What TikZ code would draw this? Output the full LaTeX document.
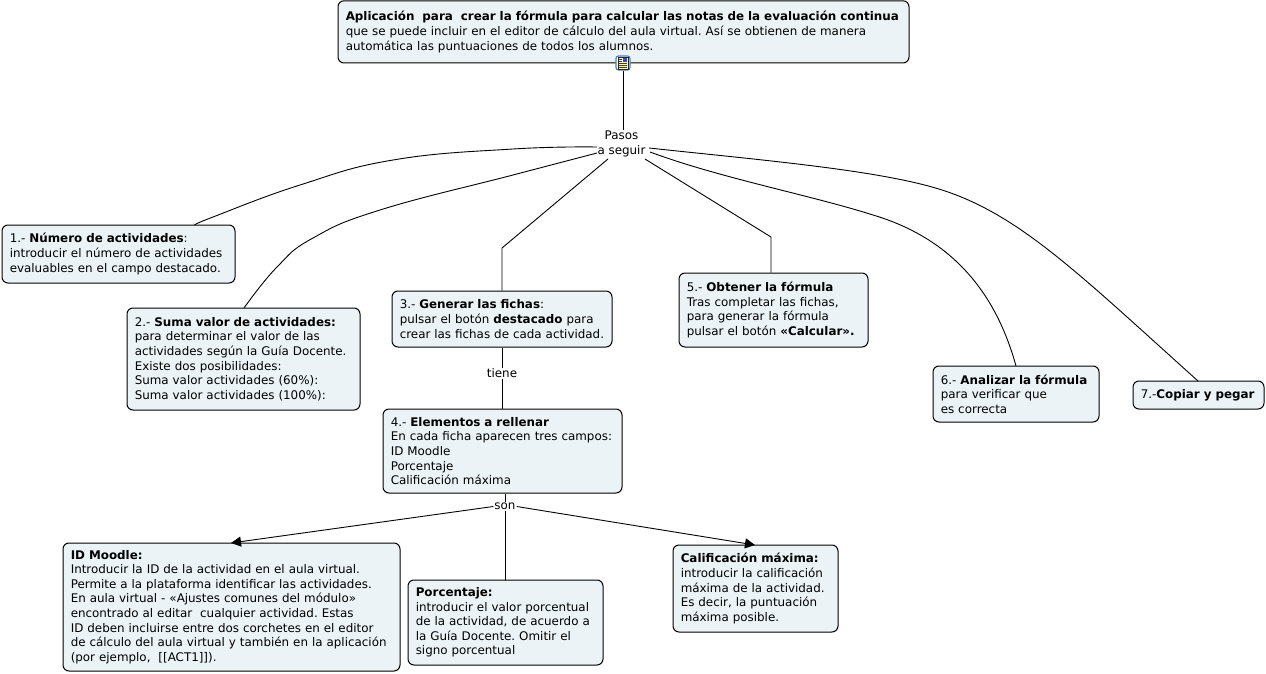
\documentclass[tikz,border=0pt]{standalone}
\usepackage{fontspec}
\setmainfont{DejaVu Sans}
\usetikzlibrary{calc,arrows.meta}
\definecolor{boxfill}{HTML}{EBF3F6}
\frenchspacing
\newcommand{\bx}[6]{% name, x0, y0, x1, y1, text
  \node[conceptbox, minimum width=#4-#2, minimum height=#5-#3, text width=#4-#2-15.5] (#1) at ({(#2+#4)/2},{(#3+#5)/2}) {#6};}
\tikzset{
  x=1pt, y=-1pt,
  conceptbox/.style={draw=black, fill=boxfill, rounded corners=6pt, line width=1pt, inner sep=0pt, align=left,
    font=\fontsize{11.9}{14.6}\selectfont},
  linklabel/.style={fill=white, inner sep=1pt, align=center, font=\fontsize{11.9}{14.6}\selectfont},
  link/.style={line width=0.9pt, black},
  linkcurve/.style={link, smooth, tension=0.75},
  linkarrow/.style={link, -{Triangle[length=10pt,width=10pt]}}
}
\begin{document}
\begin{tikzpicture}
\useasboundingbox (0,0) rectangle (1266,674);
\bx{top}{338}{0.8}{909}{63}{\textbf{Aplicación\ \ para\ \ crear la fórmula para calcular las notas de la evaluación continua}\\que se puede incluir en el editor de cálculo del aula virtual. Así se obtienen de manera\\automática las puntuaciones de todos los alumnos.}
\bx{one}{2}{225}{235}{283}{1.- \textbf{Número de actividades}:\\introducir el número de actividades\\evaluables en el campo destacado.}
\bx{two}{127}{308}{360}{410}{2.- \textbf{Suma valor de actividades:}\\para determinar el valor de las\\actividades según la Guía Docente.\\Existe dos posibilidades:\\Suma valor actividades (60\%):\\Suma valor actividades (100\%):}
\bx{three}{392}{291}{612}{347}{3.- \textbf{Generar las fichas}:\\pulsar el botón \textbf{destacado} para\\crear las fichas de cada actividad.}
\bx{four}{383}{409}{622}{493}{4.- \textbf{Elementos a rellenar}\\En cada ficha aparecen tres campos:\\ID Moodle\\Porcentaje\\Calificación máxima}
\bx{five}{679}{273}{868}{347}{5.- \textbf{Obtener la fórmula}\\Tras completar las fichas,\\para generar la fórmula\\pulsar el botón \textbf{«Calcular».}}
\bx{six}{933}{366}{1099}{422}{6.- \textbf{Analizar la fórmula}\\para verificar que\\es correcta}
\bx{seven}{1133}{381}{1264}{409}{7.-\textbf{Copiar y pegar}}
\bx{idm}{63}{543}{400}{671}{\textbf{ID Moodle:}\\Introducir la ID de la actividad en el aula virtual.\\Permite a la plataforma identificar las actividades.\\En aula virtual - «Ajustes comunes del módulo»\\encontrado al editar\ \ cualquier actividad. Estas\\ID deben incluirse entre dos corchetes en el editor\\de cálculo del aula virtual y también en la aplicación\\(por ejemplo,\ \ [[ACT1]]).}
\bx{porc}{408}{580}{603}{665}{\textbf{Porcentaje:}\\introducir el valor porcentual\\de la actividad, de acuerdo a\\la Guía Docente. Omitir el\\signo porcentual}
\bx{cal}{673}{545}{838}{632}{\textbf{Calificación máxima:}\\introducir la calificación\\máxima de la actividad.\\Es decir, la puntuación\\máxima posible.}

\node[linklabel] (pasos) at (621.5,144) {Pasos\\a seguir};
\node[linklabel] (tiene) at (502,373.5) {tiene};
\node[linklabel] (son) at (505,506.5) {son};

% document icon on the top concept
\node[draw={rgb,255:red,70;green,130;blue,200}, fill=white, rounded corners=2.5pt, line width=1.2pt, minimum size=14pt, inner sep=0pt] (icon) at (623,63) {};
\fill[yellow!35] (618,57) rectangle (628,69);
\draw[black!85, line width=0.5pt] (618,57) rectangle (628,69);
\fill[blue!45!gray] (623,58) rectangle (627,62);
\foreach \yy in {59.5,61.5}{\draw[black!75, line width=0.4pt] (619,\yy) -- (622,\yy);}
\foreach \yy in {63.5,65.5,67.5}{\draw[black!75, line width=0.4pt] (619,\yy) -- (627,\yy);}

\draw[link] (icon.south) -- (pasos.north -| icon.south);
\draw[link] (three.south -| tiene) -- (tiene.north);
\draw[link] (tiene.south) -- (four.north -| tiene);

\coordinate (s1) at (597,147);
\coordinate (s2) at (597,153);
\coordinate (s3) at (608,159);
\coordinate (s5) at (645,159);
\coordinate (s6) at (650,152);
\coordinate (s7) at (649,148);
\coordinate (c1) at (195,225);
\coordinate (c2) at (244,308);
\coordinate (c6) at (1016,366);
\coordinate (c7) at (1198,381);
\coordinate (b3) at (502,248);
\coordinate (b5) at (771,237);

\draw[linkcurve] plot coordinates {(s1) (513,149) (393,160) (300,185) (213,217) (c1)};
\draw[linkcurve] plot coordinates {(s2) (513,175) (380,210) (313,238) (277,267) (c2)};
\draw[link] (s3) -- (b3) -- (three.north -| b3);
\draw[link] (s5) -- (b5) -- (five.north -| b5);
\draw[link] (s6) .. controls (720,178) and (810,195) .. (873,215) .. controls (950,238) and (995,290) .. (c6);
\draw[link] (s7) .. controls (760,160) and (880,170) .. (942,190) .. controls (1020,215) and (1080,275) .. (c7);

\draw[link] (four.south -| son) -- (son.north);
\draw[link] (son.south) -- (porc.north -| son);
\coordinate (a1) at (231,543);
\coordinate (a2) at (755,545);
\draw[linkarrow] (son.west) -- (a1);
\draw[linkarrow] (son.east) -- (a2);
\end{tikzpicture}
\end{document}
